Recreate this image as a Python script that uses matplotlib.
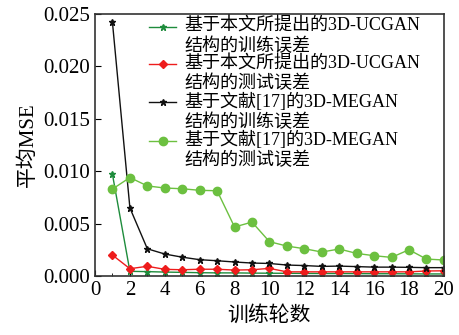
import numpy as np
import matplotlib
matplotlib.use('Agg')
from matplotlib import pyplot as plt
from matplotlib.ticker import MultipleLocator
from matplotlib.transforms import ScaledTranslation

plt.rcParams['font.family'] = ['Liberation Serif', 'Noto Sans CJK SC']
plt.rcParams['mathtext.fontset'] = 'stix'

# Data
epochs = list(range(1, 21))
ucgan_train = [0.0097, 0.00045, 0.00042, 0.00038, 0.00035, 0.00032, 0.0003, 0.0003, 0.00028, 0.00027,
               0.00026, 0.00025, 0.00024, 0.00024, 0.00023, 0.00022, 0.00022, 0.00021, 0.0002, 0.0002]
ucgan_test = [0.0020, 0.0007, 0.00093, 0.00064, 0.0006, 0.00065, 0.00065, 0.00057, 0.0006, 0.00073,
              0.0004, 0.0004, 0.0004, 0.0004, 0.0004, 0.0004, 0.0004, 0.0004, 0.00048, 0.0005]
megan_train = [0.0242, 0.0065, 0.0026, 0.0021, 0.0018, 0.00156, 0.00146, 0.00134, 0.00124, 0.0012,
               0.00105, 0.001, 0.00092, 0.00095, 0.0009, 0.00085, 0.00085, 0.00083, 0.0008, 0.0008]
megan_test = [0.0083, 0.0094, 0.0086, 0.0084, 0.00833, 0.00818, 0.00814, 0.00468, 0.00515, 0.00328,
              0.00286, 0.00261, 0.00229, 0.00258, 0.00216, 0.00194, 0.00178, 0.00251, 0.00162, 0.00153]

labels = ['基于本文所提出的3D-UCGAN\n结构的训练误差',
          '基于本文所提出的3D-UCGAN\n结构的测试误差',
          '基于文献[17]的3D-MEGAN\n结构的训练误差',
          '基于文献[17]的3D-MEGAN\n结构的测试误差']

fig = plt.figure(figsize=(4.59, 3.35), dpi=100)
ax = fig.add_axes([0.207, 0.176, 0.760, 0.782])

ax.plot(epochs, ucgan_train, color='#1e8c3c', marker='*', markersize=4.5, linewidth=1.0, label=labels[0])
ax.plot(epochs, ucgan_test, color='#ee1c1c', marker='D', markersize=4, linewidth=1.0, label=labels[1])
ax.plot(epochs, megan_train, color='#111111', marker='*', markersize=4.5, linewidth=1.0, label=labels[2])
ax.plot(epochs, megan_test, color='#6cc040', marker='o', markersize=6, linewidth=1.0, label=labels[3])

ax.set_xlim(0, 20)
ax.set_ylim(0, 0.025)
ax.xaxis.set_major_locator(MultipleLocator(2))
ax.xaxis.set_minor_locator(MultipleLocator(1))
ax.yaxis.set_major_locator(MultipleLocator(0.005))
ax.yaxis.set_major_formatter(matplotlib.ticker.FormatStrFormatter('%.3f'))
ax.tick_params(axis='both', which='major', direction='in', length=4, labelsize=15)
ax.tick_params(axis='both', which='minor', direction='in', length=2.5)
ax.tick_params(axis='y', which='minor', left=False)

for s in ax.spines.values():
    s.set_color('#333333')
    s.set_linewidth(1.2)

ax.set_xlabel('训练轮数', fontsize=15, labelpad=4)
ax.set_ylabel('平均MSE', fontsize=15, labelpad=4)

leg = ax.legend(loc='upper left', bbox_to_anchor=(0.155, 0.985), frameon=False, fontsize=13,
                borderpad=0, borderaxespad=0, labelspacing=0.0, handlelength=1.5,
                handletextpad=0.45)

# handles sit level with the first line of each two-line label
shift = ScaledTranslation(0, 0.095, fig.dpi_scale_trans)
for h in leg.legend_handles:
    h.set_transform(h.get_transform() + shift)

fig.savefig('out.png', dpi=100)
